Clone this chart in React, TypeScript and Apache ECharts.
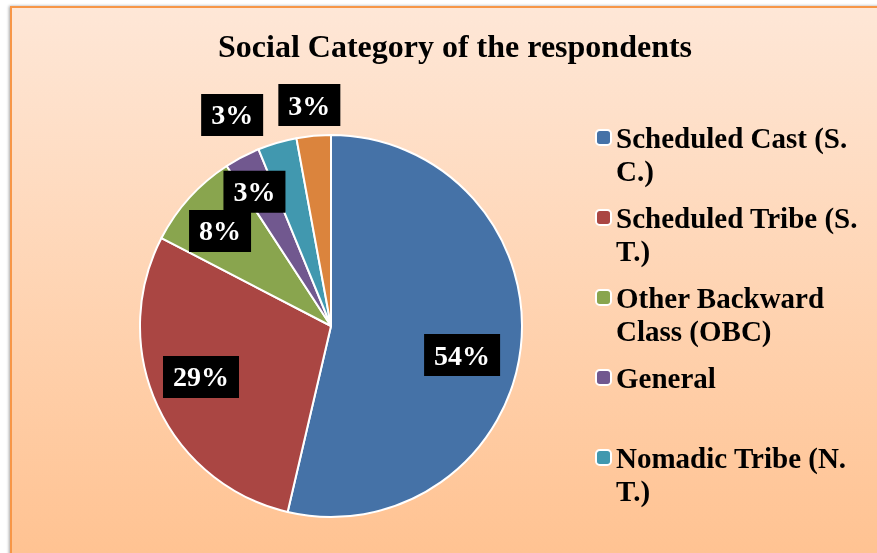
import React, { useEffect, useRef } from "react";
import * as echarts from "echarts";

const TITLE = "Social Category of the respondents";
const categories = [
  "Scheduled Cast (S. C.)",
  "Scheduled Tribe (S. T.)",
  "Other Backward Class (OBC)",
  "General",
  "Nomadic Tribe (N. T.)",
  "Vimukta Jati (V. J.)",
];
const shares = [53.7, 29.0, 8.2, 3.0, 3.3, 2.9];
const legendCategories = categories.slice(0, 5);
const colors = ["#4572A7", "#AA4643", "#89A54E", "#71588F", "#4198AF", "#DB843D"];

// label placement relative to the pie: [angle clockwise from top (deg), fraction of radius]
const labelPolar = [
  [102.5, 0.703],
  [248.6, 0.731],
  [310.6, 0.765],
  [330.3, 0.809],
  [334.9, 1.22],
  [354.4, 1.162],
];

const CX = 331;
const CY = 326;
const R = 191;
const LEGEND_TEXT_W = 258;
const FONT = "'Liberation Serif', 'Times New Roman', serif";

function textWidth(s: string): number {
  const c = document.createElement("canvas").getContext("2d");
  if (!c) return 0;
  c.font = "bold 29px " + FONT;
  return c.measureText(s).width;
}

export default function App() {
  const ref = useRef<HTMLDivElement>(null);
  useEffect(() => {
    if (!ref.current) return;
    const chart = echarts.init(ref.current, undefined, { renderer: "svg" });
    chart.setOption({
      animation: false,
      color: colors,
      graphic: [
        {
          type: "rect",
          z: -10,
          shape: { x: 11, y: 7, width: 900, height: 600 },
          style: {
            fill: new echarts.graphic.LinearGradient(0, 0, 0, 1, [
              { offset: 0, color: "#FEE7D7" },
              { offset: 1, color: "#FFBF8B" },
            ]),
            stroke: "#F79646",
            lineWidth: 2,
            shadowColor: "rgba(0,0,0,0.35)",
            shadowBlur: 3,
            shadowOffsetX: -1,
            shadowOffsetY: 0,
          },
        },
      ],
      title: {
        text: TITLE,
        left: 218,
        top: 30,
        padding: 0,
        textStyle: {
          fontFamily: FONT,
          fontWeight: "bold",
          fontSize: 32,
          color: "#000",
        },
      },
      legend: {
        data: legendCategories,
        orient: "vertical",
        left: 595,
        top: 88,
        padding: 0,
        itemWidth: 15,
        itemHeight: 15,
        itemGap: -19,
        selectedMode: false,
        formatter: (name: string) =>
          "\n" + name + (textWidth(name) <= LEGEND_TEXT_W ? "\n " : ""),
        itemStyle: { borderColor: "#fff", borderWidth: 2 },
        textStyle: {
          fontFamily: FONT,
          fontWeight: "bold",
          fontSize: 29,
          color: "#000",
          lineHeight: 33,
          width: LEGEND_TEXT_W,
          height: 99,
          overflow: "break",
          backgroundColor: "rgba(0,0,0,0)",
        },
      },
      series: [
        {
          type: "pie",
          center: [CX, CY],
          radius: R,
          startAngle: 90,
          clockwise: true,
          avoidLabelOverlap: false,
          data: categories.map((name, i) => ({ name, value: shares[i] })),
          itemStyle: { borderColor: "#fff", borderWidth: 2 },
          label: {
            show: true,
            position: "inside",
            formatter: (p: any) => Math.round(p.percent) + "%",
            color: "#fff",
            fontFamily: FONT,
            fontWeight: "bold",
            fontSize: 28,
            lineHeight: 28,
            backgroundColor: "#000",
            padding: [7, 10],
          },
          labelLine: { show: false },
          labelLayout: (params: any) => {
            const [a, f] = labelPolar[params.dataIndex];
            const rad = (a * Math.PI) / 180;
            return {
              x: CX + R * f * Math.sin(rad),
              y: CY - R * f * Math.cos(rad),
              align: "center",
              verticalAlign: "middle",
            };
          },
          emphasis: { disabled: true },
        },
      ],
    });
    return () => chart.dispose();
  }, []);
  return (
    <div
      ref={ref}
      style={{ position: "fixed", left: 0, top: 0, width: 877, height: 553 }}
    />
  );
}
